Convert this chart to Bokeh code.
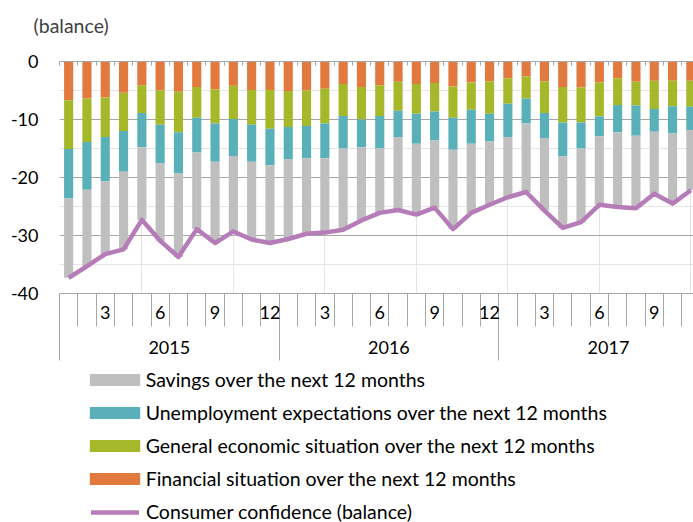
import numpy as np
from bokeh.plotting import figure
from bokeh.layouts import column
from bokeh.models import (Range1d, LinearAxis, FixedTicker, Grid, Legend, LegendItem,
                          ColumnDataSource)
from bokeh.embed import file_html
from bokeh.resources import INLINE

# ---------------- data ----------------
years = [2015] * 12 + [2016] * 12 + [2017] * 11
months = list(range(1, 13)) * 2 + list(range(1, 12))

financial = [-6.7, -6.4, -6.2, -5.4, -4.1, -5.0, -5.2, -4.4, -4.8, -4.2, -4.9, -4.9,
             -5.1, -5.0, -4.7, -3.9, -4.4, -4.1, -3.5, -3.9, -3.7, -4.3, -3.6, -3.4,
             -2.9, -2.6, -3.4, -4.4, -4.5, -3.6, -2.9, -3.5, -3.3, -3.3, -3.3]
general = [-8.4, -7.5, -6.8, -6.6, -4.8, -5.9, -7.0, -5.3, -5.9, -5.7, -6.0, -6.7,
           -6.2, -6.1, -6.0, -5.5, -5.6, -5.3, -5.0, -5.1, -4.9, -5.4, -4.7, -5.6,
           -4.4, -3.8, -5.5, -6.1, -6.0, -5.9, -4.6, -4.1, -4.9, -4.4, -4.5]
unemployment = [-8.5, -8.2, -7.7, -7.0, -5.9, -6.7, -7.1, -6.0, -6.6, -6.4, -6.4, -6.3,
                -5.5, -5.6, -6.0, -5.6, -4.8, -5.6, -4.6, -5.2, -5.0, -5.5, -5.9, -4.8,
                -5.7, -4.3, -4.3, -5.9, -4.5, -3.4, -4.7, -5.2, -3.9, -4.7, -4.0]
savings = [-13.7, -13.2, -12.5, -13.4, -12.5, -13.3, -14.4, -13.2, -14.0, -13.0, -13.4, -13.4,
           -13.8, -13.0, -12.8, -14.0, -12.6, -11.1, -12.5, -12.2, -11.6, -13.7, -11.9, -10.9,
           -10.4, -11.8, -12.5, -12.3, -12.7, -11.8, -12.9, -12.5, -10.7, -12.1, -10.4]
confidence = [-37.3, -35.3, -33.2, -32.4, -27.3, -30.9, -33.7, -28.9, -31.3, -29.3, -30.7, -31.3,
              -30.6, -29.7, -29.5, -29.0, -27.4, -26.1, -25.6, -26.4, -25.2, -28.9, -26.1, -24.7,
              -23.4, -22.5, -25.7, -28.7, -27.7, -24.7, -25.1, -25.3, -22.8, -24.5, -22.2]

y_ticks = [-40, -30, -20, -10, 0]
legend_labels = ["Savings over the next 12 months",
                 "Unemployment expectations over the next 12 months",
                 "General economic situation over the next 12 months",
                 "Financial situation over the next 12 months",
                 "Consumer confidence (balance)"]
unit_label = "(balance)"

# ---------------- style ----------------
ORANGE = "#E27A3F"
GREEN = "#A5B82A"
TEAL = "#5AB0B9"
GRAY = "#BFBFBF"
PURPLE = "#B67CB8"
AXIS_GRAY = "#A6A6A6"
FONT = "Lato"
FS = "18px"
FS_LEGEND = "19.5px"

n = len(months)
x = np.arange(1, n + 1)  # month positions (1 = first month)
source = ColumnDataSource(dict(x=x, financial=financial, general=general,
                               unemployment=unemployment, savings=savings,
                               confidence=confidence))

W = 693
H1, H2 = 366, 156
left_border = 59
px_per_month = 18.3
x_end = 0.5 + (W - left_border) / px_per_month

p = figure(width=W, height=H1, output_backend="svg", toolbar_location=None,
           x_range=Range1d(0.5, x_end), y_range=Range1d(-40, 0),
           x_axis_location=None, y_axis_location=None,
           min_border_left=left_border, min_border_right=0,
           min_border_top=61, min_border_bottom=H1 - 293)
p.outline_line_color = None
p.background_fill_color = "white"
p.border_fill_color = "white"

# unit label as (two-line) title so that it sits well above the plot
p.title.text = unit_label + "\n "
p.title.align = "left"
p.title.offset = -26
p.title.standoff = 3
p.title.text_font = FONT
p.title.text_font_size = "19.5px"
p.title.text_font_style = "normal"
p.title.text_color = "#404040"

# gridlines
p.add_layout(Grid(dimension=1, ticker=FixedTicker(ticks=y_ticks),
                  grid_line_color=AXIS_GRAY, grid_line_width=1))

# bars
bar_renderers = p.vbar_stack(["financial", "general", "unemployment", "savings"],
                             x="x", width=0.5, source=source,
                             fill_color=[ORANGE, GREEN, TEAL, GRAY], line_color=None)
line_r = p.line("x", "confidence", source=source, line_width=4.5, line_color=PURPLE,
                line_join="round")

# y axis
yax = LinearAxis(ticker=FixedTicker(ticks=y_ticks), axis_line_color=None,
                 major_label_overrides={t: str(t) for t in y_ticks},
                 major_tick_in=0, major_tick_out=0, minor_tick_in=0, minor_tick_out=0,
                 major_label_standoff=21, major_label_text_font=FONT,
                 major_label_text_font_size=FS, major_label_text_color="black")
p.add_layout(yax, "left")

# month boundaries / labels
boundaries = [i + 0.5 for i in range(n + 1)]
year_bounds = [i + 0.5 for i in range(n + 1) if i % 12 == 0]
label_ticks = [int(xx) for xx, m in zip(x, months) if m % 3 == 0]
label_over = {int(xx): str(m) for xx, m in zip(x, months) if m % 3 == 0}
uniq_years = sorted(set(years))
year_centers = [float([xx for xx, yy in zip(x, years) if yy == y][0] + 5.5) for y in uniq_years]
year_over = {c: str(y) for c, y in zip(year_centers, uniq_years)}

# top axis line with inner ticks
top_ax = LinearAxis(ticker=FixedTicker(ticks=[], minor_ticks=boundaries),
                    axis_line_color=AXIS_GRAY, major_tick_in=0, major_tick_out=0,
                    minor_tick_in=4, minor_tick_out=0, minor_tick_line_color=AXIS_GRAY,
                    major_label_standoff=0, major_label_text_font_size="0px")
p.add_layout(top_ax, "above")

# month axis
ax_m = LinearAxis(ticker=FixedTicker(ticks=label_ticks, minor_ticks=boundaries),
                  major_label_overrides=label_over,
                  axis_line_color=AXIS_GRAY, major_tick_in=0, major_tick_out=0,
                  minor_tick_in=0, minor_tick_out=33, minor_tick_line_color=AXIS_GRAY,
                  major_label_standoff=-21, major_label_text_font=FONT,
                  major_label_text_font_size=FS, major_label_text_color="black")
p.add_layout(ax_m, "below")

# year axis
ax_y = LinearAxis(ticker=FixedTicker(ticks=year_centers, minor_ticks=year_bounds),
                  major_label_overrides=year_over,
                  axis_line_color=None, major_tick_in=0, major_tick_out=0,
                  minor_tick_in=0, minor_tick_out=39, minor_tick_line_color=AXIS_GRAY,
                  major_label_standoff=-20, major_label_text_font=FONT,
                  major_label_text_font_size=FS, major_label_text_color="black")
p.add_layout(ax_y, "below")

# ---------------- legend (separate strip below the chart) ----------------
p2 = figure(width=W, height=H2, output_backend="svg", toolbar_location=None,
            x_range=Range1d(0, 1), y_range=Range1d(0, 1),
            x_axis_location=None, y_axis_location=None, min_border=0)
p2.outline_line_color = None
p2.xgrid.visible = False
p2.ygrid.visible = False
# legend-only swatches: a single NaN row so that nothing is drawn in the strip
swatch = ColumnDataSource(dict(x=[np.nan], top=[np.nan]))
lg_sav = p2.vbar(x="x", top="top", width=0.5, source=swatch, fill_color=GRAY, line_color=None)
lg_une = p2.vbar(x="x", top="top", width=0.5, source=swatch, fill_color=TEAL, line_color=None)
lg_gen = p2.vbar(x="x", top="top", width=0.5, source=swatch, fill_color=GREEN, line_color=None)
lg_fin = p2.vbar(x="x", top="top", width=0.5, source=swatch, fill_color=ORANGE, line_color=None)
lg_line = p2.line(x="x", y="top", source=swatch, line_width=4.5, line_color=PURPLE,
                  line_cap="round")

common = dict(orientation="vertical", label_height=20, spacing=10, padding=0, margin=0,
              background_fill_alpha=0, border_line_color=None, label_text_font=FONT,
              label_text_font_size=FS_LEGEND, label_text_color="black")
bar_items = [LegendItem(label=lab, renderers=[r]) for lab, r in
             zip(legend_labels[:4], [lg_sav, lg_une, lg_gen, lg_fin])]
legend_bars = Legend(items=bar_items, location=(23.7, 32), glyph_width=63, glyph_height=15,
                     label_standoff=0, **common)
legend_line = Legend(items=[LegendItem(label=legend_labels[4], renderers=[lg_line])],
                     location=(32, -1), glyph_width=48, glyph_height=12,
                     label_standoff=7, **common)
p2.add_layout(legend_bars)
p2.add_layout(legend_line)

open("out.html", "w").write(file_html(column(p, p2, spacing=0), INLINE))
